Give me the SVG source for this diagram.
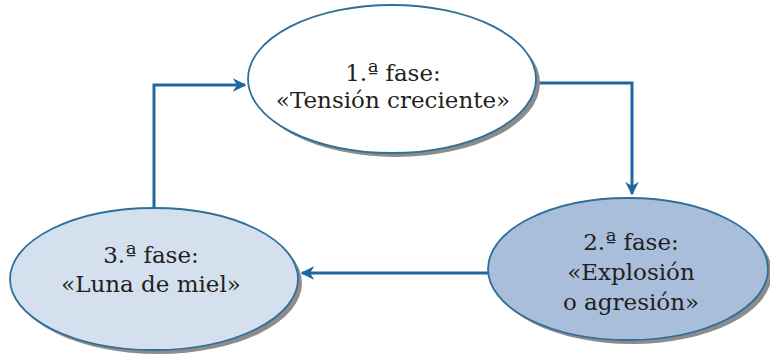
<svg xmlns="http://www.w3.org/2000/svg" width="770" height="362" viewBox="0 0 770 362">
<style>
.shadow{fill:#8c8c8c}
.node{stroke:#2f6f99;stroke-width:1.8}
.lbl{font-family:"DejaVu Serif","Liberation Serif",serif;font-size:23px;fill:#231f20;text-anchor:middle}
.conn{fill:none;stroke:#1f67a0;stroke-width:3}
</style>
<defs>
<marker id="ah" viewBox="0 0 10 10" refX="9" refY="5" markerWidth="4.5" markerHeight="4.5" orient="auto" markerUnits="strokeWidth">
<path d="M0,0 L10,5 L0,10 L3,5 Z" fill="#1f67a0"/>
</marker>
</defs>
<rect width="770" height="362" fill="#ffffff"/>
<g id="connectors">
<path class="conn" d="M537,83 H632 V194" marker-end="url(#ah)"/>
<path class="conn" d="M488,273 H302" marker-end="url(#ah)"/>
<path class="conn" d="M154,208 V85 H245" marker-end="url(#ah)"/>
</g>
<g id="node1">
<ellipse class="shadow" cx="396" cy="83" rx="144" ry="74"/>
<ellipse class="node" cx="392" cy="79" rx="144" ry="74" fill="#ffffff"/>
<text class="lbl" x="393" y="81">1.ª fase:</text>
<text class="lbl" x="393" y="108">«Tensión creciente»</text>
</g>
<g id="node2">
<ellipse class="shadow" cx="632" cy="273" rx="140" ry="71"/>
<ellipse class="node" cx="628" cy="269" rx="140" ry="71" fill="#a9bedb"/>
<text class="lbl" x="631" y="250">2.ª fase:</text>
<text class="lbl" x="631" y="280">«Explosión</text>
<text class="lbl" x="631" y="310">o agresión»</text>
</g>
<g id="node3">
<ellipse class="shadow" cx="158" cy="283" rx="144" ry="71"/>
<ellipse class="node" cx="154" cy="279" rx="144" ry="71" fill="#d4e0ee"/>
<text class="lbl" x="151" y="263">3.ª fase:</text>
<text class="lbl" x="151" y="292">«Luna de miel»</text>
</g>
</svg>
